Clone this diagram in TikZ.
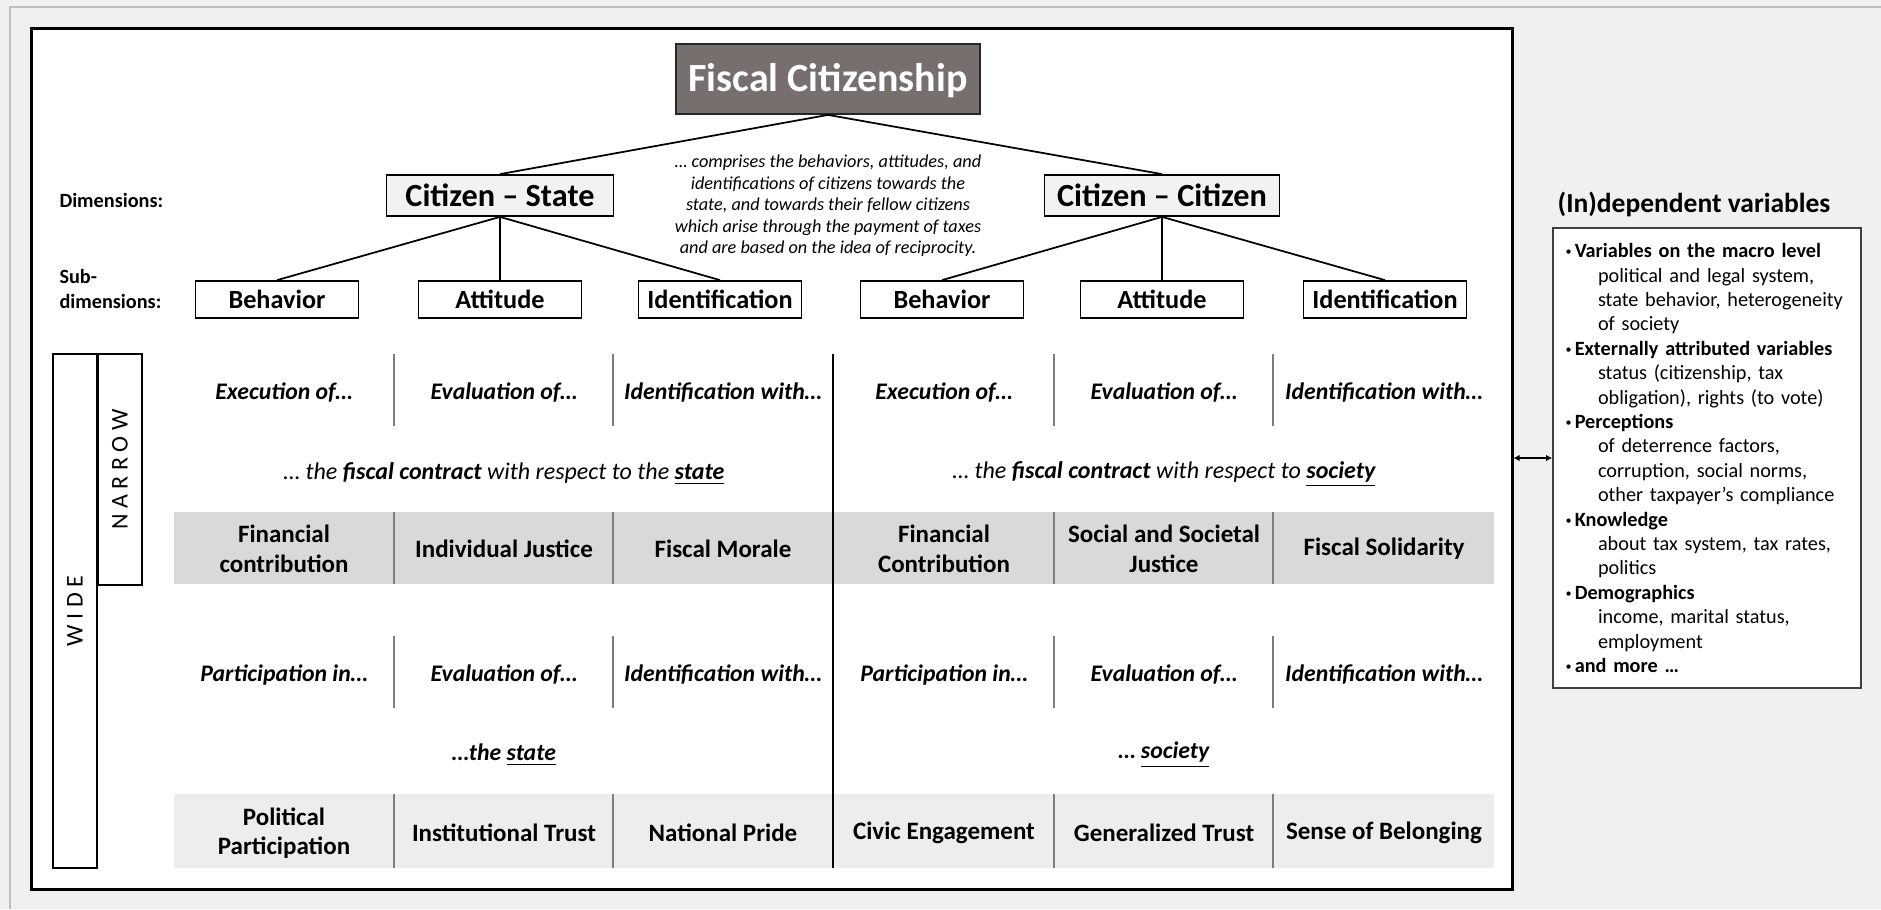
\documentclass[tikz,border=0pt]{standalone}
\usepackage{fontspec}
\setmainfont{Carlito}
\usepackage{tikz}
\usetikzlibrary{arrows.meta,positioning}
\definecolor{fcTaupe}{RGB}{118,111,109}
\definecolor{pageGray}{RGB}{240,240,240}
\definecolor{edgeGray}{RGB}{190,190,190}
\definecolor{dimFill}{RGB}{242,242,242}
\definecolor{bandDark}{RGB}{217,217,217}
\definecolor{bandLight}{RGB}{237,237,237}
\definecolor{ruleGray}{RGB}{125,125,125}
\newcommand{\setfs}[2]{\fontsize{#1}{#2}\selectfont}
\newcommand{\varhead}[1]{\hspace*{1pt}\makebox[3.7pt][l]{\raisebox{0.7pt}{\scalebox{0.6}{\textbullet}}}\textbf{#1}}
\newcommand{\varline}[1]{\hspace*{14pt}#1}
\tikzset{
  box/.style={draw=black, line width=0.7pt, align=center, inner sep=2pt},
  topbox/.style={box, fill=fcTaupe, draw=black!85, text=white, minimum width=121.6pt,
                 minimum height=28pt, text height=10.3pt, text depth=0pt, font=\bfseries\setfs{16}{19}},
  dimbox/.style={box, fill=dimFill, minimum height=16.4pt, font=\bfseries\setfs{12.9}{15}},
  subbox/.style={box, fill=white, minimum width=65.2pt, minimum height=14.8pt,
                 font=\bfseries\setfs{10.5}{12.6}},
  sidelabel/.style={anchor=west, align=left, inner sep=0pt, font=\bfseries\setfs{8.1}{10}},
  note/.style={align=center, inner sep=0pt, font=\itshape\setfs{7.3}{8.6}},
  cue/.style={inner sep=0pt, font=\bfseries\itshape\setfs{9.5}{11.4}},
  phrase/.style={inner sep=0pt, font=\itshape\setfs{9.6}{11.5}},
  cell/.style={align=center, inner sep=0pt, font=\bfseries\setfs{10}{11.8}},
  scopebox/.style={box, rotate=90, minimum height=17.6pt, inner sep=0pt, font=\setfs{9.6}{11}},
  link/.style={line width=0.7pt},
  sep/.style={draw=ruleGray, line width=0.5pt},
  divider/.style={draw=black, line width=1pt},
  dblarrow/.style={{Latex[length=2.4pt,width=2.6pt]}-{Latex[length=2.4pt,width=2.6pt]}, line width=0.5pt}
}

\begin{document}
\begin{tikzpicture}[x=0.4pt, y=-0.4pt]
\useasboundingbox (0,0) rectangle (1881,909);
\fill[pageGray] (0,0) rectangle (1881,909);
\draw[edgeGray, line width=0.8pt] (10,909) -- (10,7) -- (1881,7);
\node[draw=black, fill=white, line width=1.2pt, minimum width=592pt, minimum height=344.4pt,
      inner sep=0pt] (frame) at (772,458.5) {};

% concept tree
\node[topbox] (fiscal) at (828,79) {Fiscal Citizenship};
\node[dimbox, minimum width=90.8pt] (cs) at (500,195.5) {Citizen -- State};
\node[dimbox, minimum width=94pt] (cc) at (1162,195.5) {Citizen -- Citizen};
\node[subbox] (csBeh) at (277,299.5) {Behavior};
\node[subbox] (csAtt) at (500,299.5) {Attitude};
\node[subbox] (csIde) at (720,299.5) {Identification};
\node[subbox] (ccBeh) at (942,299.5) {Behavior};
\node[subbox] (ccAtt) at (1162,299.5) {Attitude};
\node[subbox] (ccIde) at (1385,299.5) {Identification};
\draw[link] (fiscal.south) -- (cs.north);
\draw[link] (fiscal.south) -- (cc.north);
\draw[link] (cs.south) -- (csBeh.north);
\draw[link] (cs.south) -- (csAtt.north);
\draw[link] (cs.south) -- (csIde.north);
\draw[link] (cc.south) -- (ccBeh.north);
\draw[link] (cc.south) -- (ccAtt.north);
\draw[link] (cc.south) -- (ccIde.north);

\node[sidelabel] (dims) at (59,200) {Dimensions:};
\node[sidelabel] (subdims) at (59,289) {Sub-\\dimensions:};
\node[note] (defn) at (828,206) {… comprises the behaviors, attitudes, and\\
  identifications of citizens towards the\\
  state, and towards their fellow citizens\\
  which arise through the payment of taxes\\
  and are based on the idea of reciprocity.};

% narrow / wide brackets
\node[scopebox, minimum width=205.6pt] (wide) at (75,611) {W I D E};
\node[scopebox, minimum width=92.4pt] (narrow) at (120,469.5) {N A R R O W};

% table bands
\fill[bandDark] (174,512) rectangle (1494,584);
\fill[bandLight] (174,794) rectangle (1494,868);

\node[cue] (execS) at (284,393) {Execution of…};
\node[cue] (evalS) at (504,393) {Evaluation of…};
\node[cue] (identS) at (723,393) {Identification with…};
\node[cue] (execC) at (944,393) {Execution of…};
\node[cue] (evalC) at (1164,393) {Evaluation of…};
\node[cue] (identC) at (1384,393) {Identification with…};

\node[phrase] (contractS) at (504,474) {… the \textbf{fiscal contract} with respect to the \textbf{\underline{state}}};
\node[phrase] (contractC) at (1164,474) {… the \textbf{fiscal contract} with respect to \textbf{\underline{society}}};

\node[cell] (finS) at (284,549) {Financial\\contribution};
\node[cell] (justS) at (504,549) {Individual Justice};
\node[cell] (morale) at (723,549) {Fiscal Morale};
\node[cell] (finC) at (944,549) {Financial\\Contribution};
\node[cell] (justC) at (1164,549) {Social and Societal\\Justice};
\node[cell] (solidarity) at (1384,549) {Fiscal Solidarity};

\node[cue] (partS) at (284,675) {Participation in…};
\node[cue] (evalS2) at (504,675) {Evaluation of…};
\node[cue] (identS2) at (723,675) {Identification with…};
\node[cue] (partC) at (944,675) {Participation in…};
\node[cue] (evalC2) at (1164,675) {Evaluation of…};
\node[cue] (identC2) at (1384,675) {Identification with…};

\node[cue] (theState) at (504,755) {…the \underline{state}};
\node[cue] (theSociety) at (1164,755) {… \underline{society}};

\node[cell] (politics) at (284,833) {Political\\Participation};
\node[cell] (trust) at (504,833) {Institutional Trust};
\node[cell] (pride) at (723,833) {National Pride};
\node[cell] (civic) at (944,833) {Civic Engagement};
\node[cell] (gentrust) at (1164,833) {Generalized Trust};
\node[cell] (belonging) at (1384,833) {Sense of Belonging};

% column rules
\foreach \x in {394,613,1054,1273} {
  \draw[sep] (\x,354) -- (\x,426);
  \draw[sep] (\x,512) -- (\x,584);
  \draw[sep] (\x,636) -- (\x,708);
  \draw[sep] (\x,794) -- (\x,868);
}
\draw[divider] (833,354) -- (833,868);

% variables panel
\node[font=\bfseries\setfs{11}{13}] (varsTitle) at (1694,204) {(In)dependent variables};
\node[draw=black!75, line width=0.7pt, fill=white, minimum height=184pt, text width=115.2pt,
      inner xsep=4pt, align=left, font=\setfs{8.1}{9.76}] (vars) at (1707,458) {%
  \varhead{Variables on the macro level}\\
  \varline{political and legal system,}\\
  \varline{state behavior, heterogeneity}\\
  \varline{of society}\\
  \varhead{Externally attributed variables}\\
  \varline{status (citizenship, tax}\\
  \varline{obligation), rights (to vote)}\\
  \varhead{Perceptions}\\
  \varline{of deterrence factors,}\\
  \varline{corruption, social norms,}\\
  \varline{other taxpayer’s compliance}\\
  \varhead{Knowledge}\\
  \varline{about tax system, tax rates,}\\
  \varline{politics}\\
  \varhead{Demographics}\\
  \varline{income, marital status,}\\
  \varline{employment}\\
  \varhead{and more …}};
\draw[dblarrow] (frame.east |- vars.west) -- (vars.west);
\end{tikzpicture}
\end{document}
